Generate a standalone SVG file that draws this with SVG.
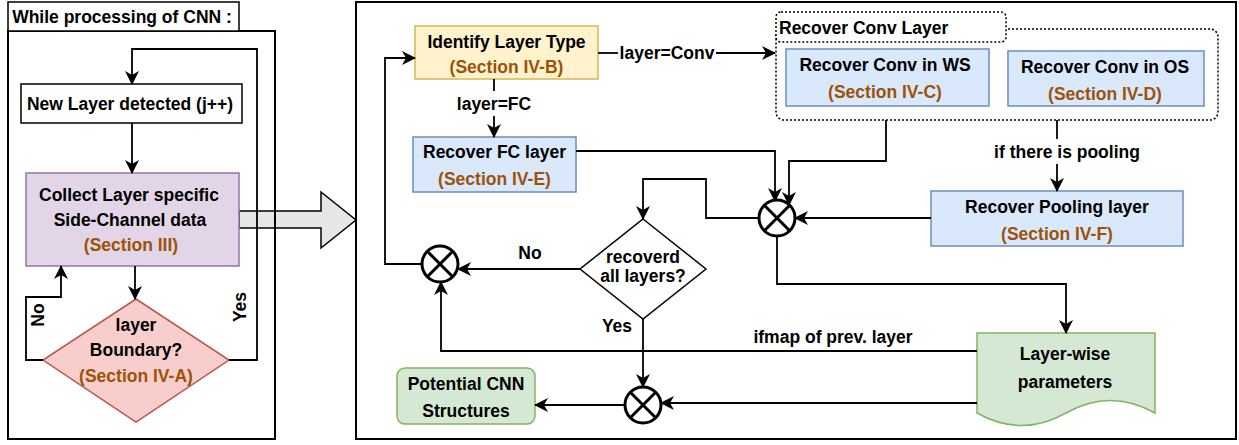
<svg xmlns="http://www.w3.org/2000/svg" width="1239" height="445" viewBox="0 0 1239 445">
<style>
text{font-family:"Liberation Sans",Arial,sans-serif;font-size:17.5px;font-weight:bold;fill:#000;text-anchor:middle;dominant-baseline:central}
.sec{fill:#9c5208}
.c{fill:none;stroke:#000;stroke-width:1.8}
.ca{fill:none;stroke:#000;stroke-width:1.8;marker-end:url(#arr)}
.blue{fill:#dae8fc;stroke:#6c8ebf;stroke-width:1.5}
.green{fill:#d5e8d4;stroke:#82b366;stroke-width:1.5}
.x{fill:#fff;stroke:#000;stroke-width:3}
</style>
<defs>
<marker id="arr" markerUnits="userSpaceOnUse" markerWidth="14" markerHeight="14" viewBox="0 0 14 14" refX="13" refY="7" orient="auto">
<path d="M0,0 L14,7 L0,14 L4,7 Z" fill="#000"/>
</marker>
</defs>
<rect width="1239" height="445" fill="#fff"/>

<!-- big gray arrow -->
<g id="bigArrow">
<path d="M239,211 H321 V192 L356,220 L321,248 V228 H239 Z" fill="#e6e6e6" stroke="#000" stroke-width="1.5"/>
</g>

<!-- left panel -->
<g id="leftPanel">
<rect x="8" y="31" width="267" height="408" fill="none" stroke="#000" stroke-width="2"/>
<rect x="8" y="2" width="231" height="29" fill="#fff" stroke="#000" stroke-width="1.5"/>
<text x="122" y="17">While processing of CNN :</text>
</g>

<g id="newLayer">
<rect x="21" y="84" width="221" height="39" fill="#fff" stroke="#000" stroke-width="1.5"/>
<text x="130" y="104">New Layer detected (j++)</text>
</g>

<g id="collect">
<rect x="26" y="173" width="213" height="93" fill="#e1d5e7" stroke="#9673a6" stroke-width="1.5"/>
<text x="129" y="195">Collect Layer specific</text>
<text x="130" y="220">Side-Channel data</text>
<text x="131" y="245" class="sec">(Section III)</text>
</g>

<g id="boundary">
<path d="M136,299 L229,360 L136,422 L43,360 Z" fill="#f8cecc" stroke="#b85450" stroke-width="1.5"/>
<text x="136" y="325">layer</text>
<text x="136" y="350">Boundary?</text>
<text x="136" y="376" class="sec">(Section IV-A)</text>
</g>

<!-- right panel frame -->
<g id="rightPanel">
<rect x="356" y="2" width="880" height="437" fill="none" stroke="#000" stroke-width="2"/>
</g>

<g id="identify">
<rect x="415" y="26" width="183" height="53" fill="#fff2cc" stroke="#d6b656" stroke-width="1.5"/>
<text x="506.5" y="42">Identify Layer Type</text>
<text x="506.5" y="67" class="sec">(Section IV-B)</text>
</g>

<g id="fc">
<rect x="413" y="137" width="163" height="55" class="blue"/>
<text x="494.5" y="152">Recover FC layer</text>
<text x="494.5" y="179" class="sec">(Section IV-E)</text>
</g>

<g id="convGroup">
<rect x="776" y="29" width="442" height="91" rx="8" fill="#fff" stroke="#000" stroke-width="1.5" stroke-dasharray="2,2"/>
<rect x="776" y="12" width="230" height="30" rx="5" fill="#fff" stroke="#000" stroke-width="1.5" stroke-dasharray="2,2"/>
<text x="779" y="28" style="text-anchor:start">Recover Conv Layer</text>
</g>

<g id="convWS">
<rect x="786" y="49" width="203" height="57" class="blue"/>
<text x="885" y="65">Recover Conv in WS</text>
<text x="885" y="92" class="sec">(Section IV-C)</text>
</g>

<g id="convOS">
<rect x="1008" y="51" width="196" height="55" class="blue"/>
<text x="1105" y="67">Recover Conv in OS</text>
<text x="1105" y="94" class="sec">(Section IV-D)</text>
</g>

<g id="pooling">
<rect x="931" y="191" width="252" height="55" class="blue"/>
<text x="1057" y="207">Recover Pooling layer</text>
<text x="1057" y="234" class="sec">(Section IV-F)</text>
</g>

<g id="layerwise">
<path d="M977,333 H1155 V413 Q1110.5,388 1066,413 Q1021.5,438 977,413 Z" class="green"/>
<text x="1065" y="354">Layer-wise</text>
<text x="1065" y="382">parameters</text>
</g>

<g id="recovered">
<path d="M643,219 L706,269 L643,319 L580,269 Z" fill="#fff" stroke="#000" stroke-width="1.5"/>
<text x="643" y="257">recoverd</text>
<text x="643" y="276">all layers?</text>
</g>

<g id="potential">
<rect x="397" y="368" width="138" height="56" rx="8" class="green"/>
<text x="466" y="384">Potential CNN</text>
<text x="466" y="411">Structures</text>
</g>

<!-- connectors -->
<g id="connectors">
<path class="ca" d="M229,360 H257 V49 H132 V84"/>
<path class="ca" d="M43,360 H26 V297 H61 V266"/>
<path class="ca" d="M132,123 V173"/>
<path class="ca" d="M135,266 V299"/>

<path class="ca" d="M422,264 H385 V58 H415"/>
<path class="c" d="M494,79 V91"/>
<path class="ca" d="M494,116 V137"/>
<path class="c" d="M598,53 H618"/>
<path class="ca" d="M716,53 H775"/>
<path class="ca" d="M576,151 H775 V201"/>
<path class="ca" d="M886,120 V161 H789 V205"/>
<path class="ca" d="M931,218 H795"/>
<path class="ca" d="M759,218 H706 V179 H643 V219"/>
<path class="ca" d="M777,236 V284 H1066 V333"/>
<path class="c" d="M1057,120 V139"/>
<path class="ca" d="M1057,164 V191"/>
<path class="ca" d="M580,269 H458"/>
<path class="ca" d="M977,351 H441 V282"/>
<path class="ca" d="M643,319 V387"/>
<path class="ca" d="M977,403 H661"/>
<path class="ca" d="M625,405 H535"/>

<text x="38" y="315" transform="rotate(-90 38 315)">No</text>
<text x="240" y="307" transform="rotate(-90 240 307)">Yes</text>
<text x="494" y="104">layer=FC</text>
<text x="667" y="53">layer=Conv</text>
<text x="1067" y="152">if there is pooling</text>
<text x="530" y="253">No</text>
<text x="833" y="337">ifmap of prev. layer</text>
<text x="617" y="326">Yes</text>
</g>

<g id="xor1">
<circle cx="440" cy="264" r="18" class="x"/>
<path d="M427.3,251.3 L452.7,276.7 M452.7,251.3 L427.3,276.7" stroke="#000" stroke-width="3"/>
</g>
<g id="xor2">
<circle cx="777" cy="218" r="18" class="x"/>
<path d="M764.3,205.3 L789.7,230.7 M789.7,205.3 L764.3,230.7" stroke="#000" stroke-width="3"/>
</g>
<g id="xor3">
<circle cx="643" cy="405" r="18" class="x"/>
<path d="M630.3,392.3 L655.7,417.7 M655.7,392.3 L630.3,417.7" stroke="#000" stroke-width="3"/>
</g>
</svg>
